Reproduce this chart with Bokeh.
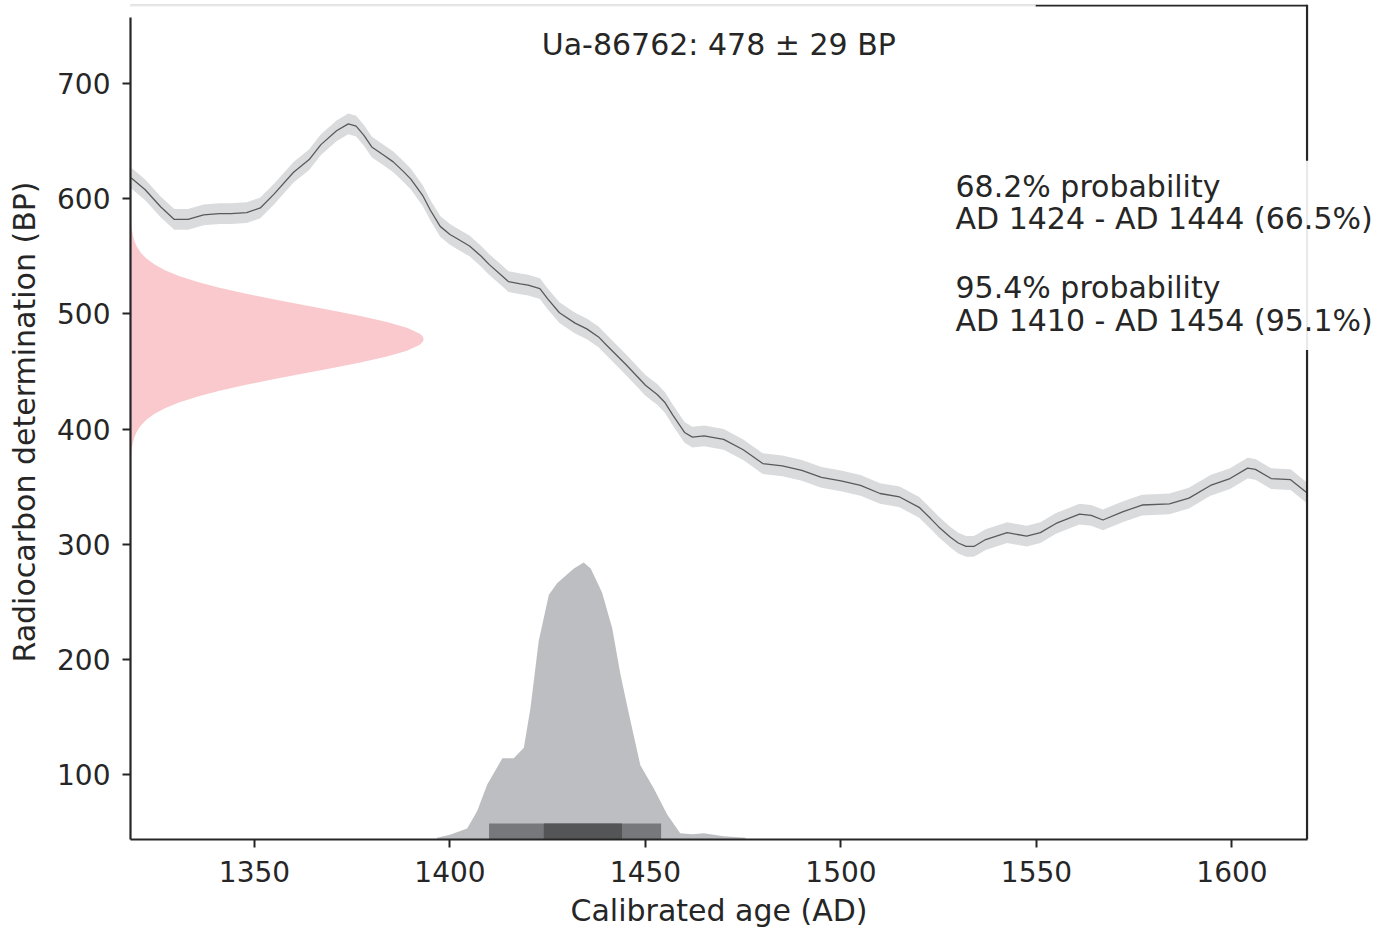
from bokeh.plotting import figure
from bokeh.models import Label, Range1d, FixedTicker, Title
from bokeh.embed import file_html
from bokeh.resources import INLINE

# ---- calibration curve ----
curve_years = [1318.5, 1322, 1326, 1329.5, 1333, 1337, 1341, 1344, 1348, 1351.5,
               1355, 1360, 1364, 1367, 1371, 1374, 1376, 1378, 1380, 1383,
               1385.5, 1388, 1390, 1393, 1395, 1397.5, 1400, 1402, 1405, 1408,
               1410, 1413, 1415, 1418, 1420, 1423, 1425, 1428, 1432, 1435,
               1438, 1440, 1445, 1450, 1453, 1455, 1457, 1460, 1462, 1465,
               1470, 1475, 1480, 1485, 1490, 1495, 1500, 1505, 1510, 1515,
               1520, 1523, 1525, 1528, 1530, 1532, 1534, 1537, 1542.5, 1547.5,
               1551, 1555, 1561, 1564, 1567, 1572, 1577, 1584, 1589, 1594.5,
               1599.5, 1604, 1606, 1610, 1615, 1619]
curve_bp = [618, 608, 593, 582, 582, 586, 587, 587, 588, 592,
            604, 623, 634, 647, 659, 665, 663, 655, 645, 638,
            632, 624, 617, 603, 590, 576, 569, 565, 559, 550,
            543, 534, 528, 526, 525, 522, 513, 501, 492, 487,
            480, 473, 456, 438, 430, 423, 412, 397, 393, 394,
            391, 382, 370, 368, 364, 358, 355, 351, 344, 341,
            332, 322, 315, 306, 301, 298, 298, 304, 310, 307,
            310, 318, 326, 325, 321, 328, 334, 335, 340, 351,
            357, 366, 365, 357, 356, 345]
curve_sigma = [9] * len(curve_bp)

# ---- radiocarbon determination: Ua-86762, 478 +/- 29 BP (width in years) ----
c14_bp = [373, 378, 383, 388, 393, 398, 403, 408, 413, 418, 423, 428, 433, 438,
          443, 448, 453, 458, 463, 468, 473, 475.5, 478, 480.5, 483, 488, 493, 498,
          503, 508, 513, 518, 523, 528, 533, 538, 543, 548, 553, 558, 563, 568,
          573, 578, 583]
c14_width = [0.11, 0.20, 0.35, 0.61, 1.02, 1.67, 2.65, 4.07, 6.08, 8.82, 12.4, 17.0,
             22.5, 29.0, 36.2, 43.9, 51.7, 59.1, 65.6, 70.7, 73.9, 74.7, 75.0, 74.7,
             73.9, 70.7, 65.6, 59.1, 51.7, 43.9, 36.2, 29.0, 22.5, 17.0, 12.4, 8.82,
             6.08, 4.07, 2.65, 1.67, 1.02, 0.61, 0.35, 0.20, 0.11]

# ---- calibrated age distribution (relative probability) ----
cal_years = [1396.7, 1400, 1404.4, 1407, 1409.5, 1413.4, 1416.3, 1418.9, 1420.6,
             1422.7, 1425.3, 1427.4, 1430, 1431.7, 1434.2, 1436, 1438.9, 1441.5,
             1443.6, 1445.8, 1448.7, 1452.1, 1455.6, 1458.9, 1462, 1464.9, 1470, 1475.6]
cal_prob = [0.006, 0.017, 0.040, 0.104, 0.198, 0.293, 0.293, 0.331, 0.476,
            0.717, 0.884, 0.925, 0.958, 0.979, 1.000, 0.979, 0.892, 0.763,
            0.597, 0.451, 0.268, 0.185, 0.089, 0.023, 0.019, 0.023, 0.012, 0.006]

range_954 = (1410, 1454)
range_682 = (1424, 1444)

title_text = "Ua-86762: 478 \u00b1 29 BP"
ann_lines = ["68.2% probability", "AD 1424 - AD 1444 (66.5%)",
             "95.4% probability", "AD 1410 - AD 1454 (95.1%)"]
x_label = "Calibrated age (AD)"
y_label = "Radiocarbon determination (BP)"
x_ticks = [1350, 1400, 1450, 1500, 1550, 1600]
y_ticks = [100, 200, 300, 400, 500, 600, 700]

X0, X1 = 1318.3, 1619.2          # axes extent (years)
XR = 1640.8                      # canvas right edge (room for the text box)
Y0, Y1 = 43.5, 768.7
PXY = 1.15                       # pixels per BP unit
CAL_PEAK = 240.5
BAR_H = 14

TXT = "#262626"
FONT = "DejaVu Sans"

p = figure(width=1391, height=933, x_range=Range1d(X0, XR), y_range=Range1d(Y0, Y1),
           output_backend="svg", toolbar_location=None,
           min_border_left=130, min_border_right=0, min_border_top=4,
           min_border_bottom=10)
p.xgrid.visible = False
p.ygrid.visible = False
p.background_fill_color = "white"
p.outline_line_color = None

# calibration band + curve
lo = [b - s for b, s in zip(curve_bp, curve_sigma)]
hi = [b + s for b, s in zip(curve_bp, curve_sigma)]
p.varea(x=curve_years, y1=lo, y2=hi, fill_color="#dadbdd", fill_alpha=1)
p.line(curve_years, curve_bp, line_color="#5a5a5a", line_width=1.3)

# radiocarbon determination (pink)
p.harea(y=c14_bp, x1=[X0] * len(c14_bp), x2=[X0 + w for w in c14_width],
        fill_color="#f9c9ce", fill_alpha=1)

# calibrated distribution
p.varea(x=cal_years, y1=[Y0] * len(cal_years), y2=[Y0 + v * CAL_PEAK for v in cal_prob],
        fill_color="#bdbec1", fill_alpha=1)
p.quad(left=[range_954[0]], right=[range_954[1]], bottom=[Y0], top=[Y0 + BAR_H],
       fill_color="#77787b", line_color=None)
p.quad(left=[range_682[0]], right=[range_682[1]], bottom=[Y0], top=[Y0 + BAR_H],
       fill_color="#545557", line_color=None)

# right and top spines
p.line([X1, X1], [Y0, Y1], line_color=TXT, line_width=2.2)
p.line([X0, X1], [Y1 - 1 / PXY, Y1 - 1 / PXY], line_color=TXT, line_width=2.2)

# axes
for ax in (p.xaxis[0], p.yaxis[0]):
    ax.axis_line_color = TXT
    ax.axis_line_width = 2.2
    ax.major_tick_line_color = TXT
    ax.major_tick_line_width = 2
    ax.major_tick_out = 8
    ax.major_tick_in = 0
    ax.minor_tick_line_color = None
    ax.major_label_text_font = FONT
    ax.major_label_text_font_size = "28px"
    ax.major_label_text_color = TXT
    ax.axis_label_text_font = FONT
    ax.axis_label_text_font_size = "30px"
    ax.axis_label_text_font_style = "normal"
    ax.axis_label_text_color = TXT
p.xaxis.ticker = FixedTicker(ticks=x_ticks)
p.yaxis.ticker = FixedTicker(ticks=y_ticks)
p.xaxis.bounds = (X0, X1)
p.yaxis.bounds = (Y0, 700 + 66 / PXY)
p.yaxis.axis_label = y_label
p.xaxis.major_label_standoff = 13
p.yaxis.major_label_standoff = 12
p.yaxis.axis_label_standoff = 12

# x-axis label placed under the axes (not under the wider canvas)
p.add_layout(Title(text=x_label, align="left", offset=440, standoff=12,
                   text_font=FONT, text_font_size="30px", text_font_style="normal",
                   text_color=TXT), "below")

# semi-transparent white boxes (clipped title box at top, annotation box at right)
p.quad(left=[X0 - 2], right=[1549.8], bottom=[700 + 66 / PXY], top=[Y1 + 20],
       fill_color="white", fill_alpha=0.9, line_color=None)
p.quad(left=[1526.7], right=[XR + 5], bottom=[468.7], top=[633.0],
       fill_color="white", fill_alpha=0.9, line_color=None)

p.add_layout(Label(x=(X0 + X1) / 2, y=733.9, text=title_text, text_align="center",
                   text_baseline="middle", text_font=FONT, text_font_size="30px",
                   text_color=TXT))
ann_y = [610.4, 582.6, 522.6, 493.9]
for t, yy in zip(ann_lines, ann_y):
    p.add_layout(Label(x=1529.3, y=yy, text=t, text_align="left", text_baseline="middle",
                       text_font=FONT, text_font_size="30px", text_color=TXT))

open("out.html", "w").write(file_html(p, INLINE))
